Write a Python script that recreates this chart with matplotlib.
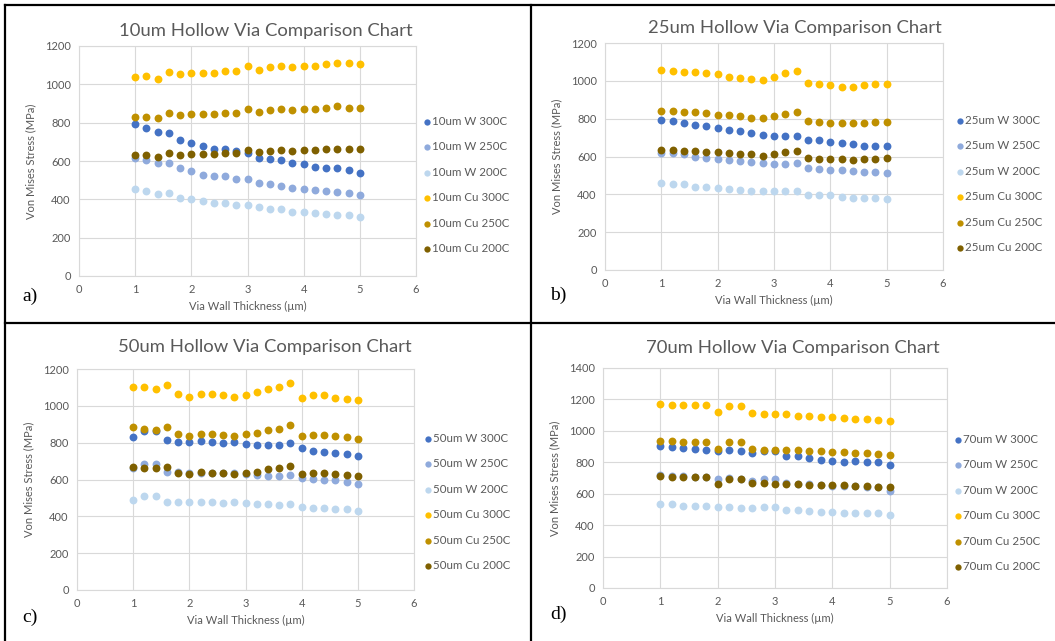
import numpy as np
import matplotlib.pyplot as plt
from matplotlib.lines import Line2D

plt.rcParams['font.family'] = ['Lato', 'DejaVu Sans']

thickness = [1.0, 1.2, 1.4, 1.6, 1.8, 2.0, 2.2, 2.4, 2.6, 2.8, 3.0,
             3.2, 3.4, 3.6, 3.8, 4.0, 4.2, 4.4, 4.6, 4.8, 5.0]

series_names = ["W 300C", "W 250C", "W 200C", "Cu 300C", "Cu 250C", "Cu 200C"]
colors = ["#4472C4", "#8FAADC", "#BDD7EE", "#FFC000", "#BF9000", "#7F6000"]

# 10um via
v10_w300 = [792, 770, 752, 747, 712, 695, 677, 662, 662, 650, 643, 615, 610, 603, 587, 582, 569, 564, 564, 552, 535]
v10_w250 = [615, 603, 587, 587, 561, 547, 529, 524, 524, 507, 507, 484, 479, 472, 460, 455, 449, 444, 439, 432, 421]
v10_w200 = [456, 444, 427, 432, 409, 404, 392, 381, 381, 369, 369, 359, 347, 347, 336, 336, 331, 324, 319, 319, 307]
v10_cu300 = [1038, 1043, 1027, 1062, 1052, 1057, 1057, 1057, 1068, 1068, 1097, 1075, 1092, 1097, 1092, 1097, 1097, 1104, 1109, 1109, 1104]
v10_cu250 = [832, 832, 822, 850, 839, 843, 843, 843, 850, 850, 873, 855, 867, 873, 867, 873, 873, 879, 885, 879, 879]
v10_cu200 = [630, 630, 620, 643, 630, 637, 637, 637, 643, 643, 658, 648, 653, 658, 653, 658, 658, 664, 664, 664, 664]

# 25um via
v25_w300 = [794, 787, 776, 769, 759, 752, 741, 734, 724, 716, 711, 711, 711, 688, 688, 676, 671, 664, 658, 658, 653]
v25_w250 = [618, 618, 611, 600, 593, 588, 582, 575, 570, 565, 558, 558, 565, 540, 535, 529, 529, 522, 517, 517, 512]
v25_w200 = [459, 454, 454, 441, 441, 434, 429, 424, 416, 416, 416, 416, 416, 399, 399, 394, 388, 381, 381, 381, 376]
v25_cu300 = [1059, 1052, 1046, 1046, 1039, 1034, 1022, 1016, 1011, 1004, 1022, 1039, 1052, 986, 981, 976, 969, 969, 976, 981, 981]
v25_cu250 = [842, 840, 835, 835, 829, 822, 817, 812, 806, 806, 812, 824, 835, 789, 782, 776, 776, 776, 776, 782, 782]
v25_cu200 = [635, 635, 630, 630, 626, 623, 618, 612, 612, 605, 612, 623, 630, 593, 588, 588, 588, 582, 588, 588, 593]

# 50um via
v50_w300 = [829, 863, 863, 816, 804, 804, 810, 804, 798, 804, 791, 786, 786, 786, 798, 769, 757, 751, 746, 738, 726]
v50_w250 = [661, 686, 686, 643, 643, 637, 637, 637, 637, 637, 632, 624, 619, 619, 624, 606, 601, 595, 595, 588, 577]
v50_w200 = [489, 510, 510, 478, 478, 478, 478, 478, 471, 478, 471, 465, 465, 460, 465, 452, 447, 447, 442, 442, 429]
v50_cu300 = [1104, 1104, 1093, 1111, 1062, 1050, 1062, 1062, 1057, 1050, 1057, 1075, 1093, 1104, 1122, 1043, 1057, 1057, 1044, 1039, 1032]
v50_cu250 = [883, 876, 871, 883, 845, 834, 845, 845, 840, 834, 845, 852, 871, 876, 894, 834, 840, 840, 834, 829, 822]
v50_cu200 = [668, 661, 661, 668, 637, 632, 643, 637, 637, 632, 637, 643, 655, 661, 673, 632, 637, 637, 632, 626, 621]

# 70um via
v70_w300 = [906, 899, 893, 887, 880, 872, 880, 872, 859, 875, 872, 838, 838, 829, 817, 808, 802, 808, 802, 802, 781]
v70_w250 = [717, 711, 711, 708, 704, 696, 700, 696, 683, 696, 696, 668, 664, 660, 655, 652, 646, 648, 645, 640, 617]
v70_w200 = [532, 532, 524, 524, 524, 515, 515, 509, 509, 515, 515, 496, 496, 490, 482, 482, 475, 475, 475, 475, 462]
v70_cu300 = [1173, 1167, 1167, 1167, 1167, 1118, 1160, 1160, 1112, 1105, 1105, 1105, 1097, 1097, 1090, 1090, 1084, 1078, 1078, 1069, 1063]
v70_cu250 = [935, 935, 929, 929, 929, 887, 929, 929, 887, 880, 880, 880, 880, 872, 872, 866, 866, 859, 859, 851, 844]
v70_cu200 = [711, 704, 704, 704, 704, 664, 696, 696, 668, 668, 662, 662, 662, 656, 656, 656, 656, 649, 649, 643, 643]

panels = [
    ("10um", [v10_w300, v10_w250, v10_w200, v10_cu300, v10_cu250, v10_cu200], 1200, "a)"),
    ("25um", [v25_w300, v25_w250, v25_w200, v25_cu300, v25_cu250, v25_cu200], 1200, "b)"),
    ("50um", [v50_w300, v50_w250, v50_w200, v50_cu300, v50_cu250, v50_cu200], 1200, "c)"),
    ("70um", [v70_w300, v70_w250, v70_w200, v70_cu300, v70_cu250, v70_cu200], 1400, "d)"),
]

W, H = 1055, 641
# axes boxes in pixels: left, top, right, bottom
boxes = [(79, 46, 416, 276), (605, 43, 943, 270), (77, 369, 414, 590), (603, 368, 947, 588)]
title_xy = [(266, 31), (795, 28), (265, 347), (793, 348)]
legend_xy = [(424, 116), (957, 115), (425, 433), (955, 434)]
label_xy = [(22, 296), (550, 295), (22, 617), (550, 614)]

GRID = "#d9d9d9"
TXT = "#595959"

fig = plt.figure(figsize=(W / 100, H / 100), dpi=100)

for (size, vals, ymax, tag), (l, t, r, b), (hx, hy), (lx, ly), (tx, ty) in zip(
        panels, boxes, title_xy, legend_xy, label_xy):
    ax = fig.add_axes([l / W, 1 - b / H, (r - l) / W, (b - t) / H])
    for v, name, c in zip(vals, series_names, colors):
        ax.scatter(thickness, v, s=32, color=c, linewidths=0, label=f"{size} {name}", zorder=3)
    ax.set_xlim(0, 6)
    ax.set_ylim(0, ymax)
    ax.set_xticks(np.arange(0, 7, 1))
    ax.set_yticks(np.arange(0, ymax + 1, 200))
    ax.grid(True, color=GRID, linewidth=0.8, zorder=0)
    ax.set_axisbelow(True)
    for sp in ax.spines.values():
        sp.set_color(GRID)
        sp.set_linewidth(0.8)
    ax.tick_params(length=0, labelsize=8, labelcolor=TXT, pad=6)
    fig.text(hx / W, 1 - hy / H, f"{size} Hollow Via Comparison Chart", fontsize=13.3, color=TXT,
             ha="center", va="center")
    ax.set_xlabel("Via Wall Thickness (µm)", fontsize=8, color=TXT, labelpad=4)
    ax.set_ylabel("Von Mises Stress (MPa)", fontsize=8, color=TXT, labelpad=6)
    ax.legend(loc="upper left", bbox_to_anchor=(lx / W, 1 - ly / H), bbox_transform=fig.transFigure,
              frameon=False, fontsize=8.3, labelcolor=TXT, handlelength=0.5, handletextpad=0.2,
              labelspacing=1.25, borderpad=0, borderaxespad=0, markerscale=0.8)
    fig.text(tx / W, 1 - ty / H, tag, fontsize=14, family="Liberation Serif", va="center", ha="left")

# panel frame lines
lw = 1.6
for x0, y0, x1, y1 in [(5, 5, 1055, 5), (5, 5, 5, 641), (531, 5, 531, 641), (5, 323, 1055, 323)]:
    fig.add_artist(Line2D([x0 / W, x1 / W], [1 - y0 / H, 1 - y1 / H], color="black", linewidth=lw,
                          transform=fig.transFigure))

fig.savefig("out.png", dpi=100)
